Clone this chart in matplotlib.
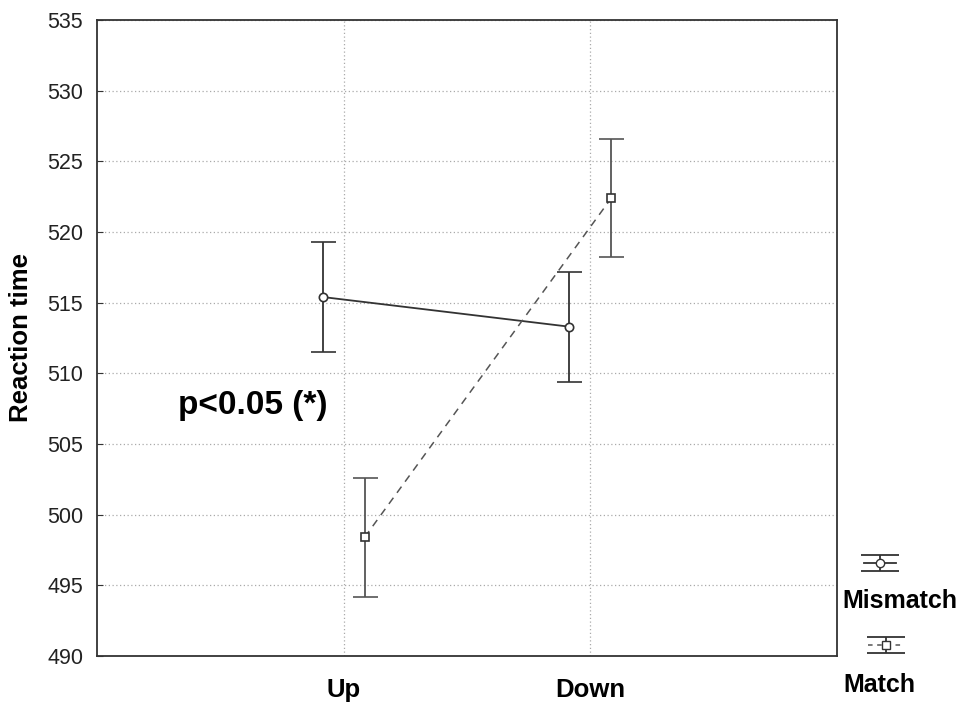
import numpy as np
import matplotlib.pyplot as plt
from matplotlib.lines import Line2D

plt.rcParams["font.family"] = ["Liberation Sans", "DejaVu Sans"]

conditions = ["Up", "Down"]
mismatch_mean = [515.4, 513.3]
mismatch_err = [3.9, 3.9]
match_mean = [498.4, 522.4]
match_err = [4.2, 4.2]

x = np.array([1, 2])
off = 0.085

fig = plt.figure(figsize=(9.62, 7.05), dpi=100)
ax = fig.add_axes([97/962, 49/705, 740/962, 636/705])

col = "#333333"
ax.errorbar(x - off, mismatch_mean, yerr=mismatch_err, color=col, lw=1.3,
            marker="o", ms=6, mfc="white", mec=col, mew=1.2,
            capsize=9, capthick=1.3, elinewidth=1.3, zorder=3)
ax.errorbar(x + off, match_mean, yerr=match_err, color="#555555", lw=1.1,
            ls=(0, (5, 4)), marker="s", ms=6, mfc="white", mec=col, mew=1.2,
            capsize=9, capthick=1.3, elinewidth=1.3, zorder=3)

ax.set_xlim(0, 3)
ax.set_ylim(490, 535)
ax.set_yticks(np.arange(490, 536, 5))
ax.set_xticks(x)
ax.set_xticklabels(conditions, fontsize=18.5, fontweight="bold")
ax.tick_params(axis="y", labelsize=15.5, direction="in", length=4, colors=col,
               labelcolor="#222222", pad=10)
ax.tick_params(axis="x", direction="in", length=0, pad=16)
ax.grid(True, color="#aaaaaa", ls=(0, (1, 2)), lw=0.9)
for s in ax.spines.values():
    s.set_color(col)
    s.set_linewidth(1.3)

ax.set_ylabel("Reaction time", fontsize=18.5, fontweight="bold", labelpad=10)
fig.text(178/962, 1 - 405/705, "p<0.05 (*)", fontsize=24, fontweight="bold",
         va="center")

# legend drawn outside the axes
lax = fig.add_axes([830/962, 0, 132/962, 175/705])
lax.set_xlim(0, 132)
lax.set_ylim(175, 0)
lax.axis("off")
lax.errorbar([50], [33], yerr=[8], color=col, marker="o", ms=6, mfc="white",
             mec=col, capsize=14, capthick=1.3, elinewidth=1.3)
lax.add_line(Line2D([34, 66], [33, 33], color=col, lw=1.3))
lax.errorbar([56], [115], yerr=[8], color=col, marker="s", ms=6, mfc="white",
             mec=col, capsize=14, capthick=1.3, elinewidth=1.3)
lax.add_line(Line2D([38, 74], [115, 115], color="#555555", lw=1.1, ls=(0, (3, 3))))
lax.text(70, 71, "Mismatch", fontsize=18, fontweight="bold", ha="center", va="center")
lax.text(49, 155, "Match", fontsize=18, fontweight="bold", ha="center", va="center")

fig.savefig("out.png", dpi=100)
